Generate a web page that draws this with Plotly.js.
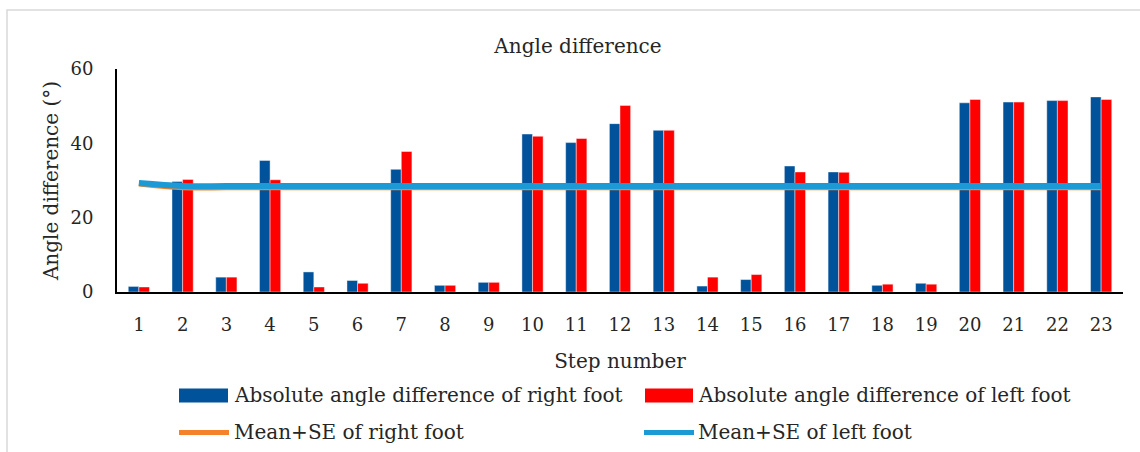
<!DOCTYPE html>
<html>
<head>
<meta charset="utf-8">
<script src="https://cdn.plot.ly/plotly-3.0.1.min.js"></script>
<style>html,body{margin:0;padding:0;background:#fff;}#chart{width:1140px;height:452px;}</style>
</head>
<body>
<div id="chart"></div>
<script>
// ---- data ----
const categories = ['1','2','3','4','5','6','7','8','9','10','11','12','13','14','15','16','17','18','19','20','21','22','23'];
const rightFoot = [1.5, 29.7, 4.0, 35.4, 5.4, 3.1, 33.0, 1.8, 2.6, 42.5, 40.2, 45.3, 43.5, 1.6, 3.35, 33.9, 32.3, 1.8, 2.35, 50.9, 51.1, 51.5, 52.5];
const leftFoot  = [1.35, 30.3, 4.0, 30.2, 1.35, 2.35, 37.8, 1.8, 2.6, 41.9, 41.3, 50.2, 43.5, 4.0, 4.7, 32.3, 32.2, 2.1, 2.1, 51.8, 51.1, 51.5, 51.8];
const meanSERight = [28.9, 27.9, 27.9, 27.9, 27.9, 27.9, 27.9, 27.9, 27.9, 27.9, 27.9, 27.9, 27.9, 27.9, 27.9, 27.9, 27.9, 27.9, 27.9, 27.9, 27.9, 27.9, 27.9];
const meanSELeft  = [29.3, 28.5, 28.5, 28.5, 28.5, 28.5, 28.5, 28.5, 28.5, 28.5, 28.5, 28.5, 28.5, 28.5, 28.5, 28.5, 28.5, 28.5, 28.5, 28.5, 28.5, 28.5, 28.5];
const seriesNames = ['Absolute angle difference of right foot', 'Absolute angle difference of left foot', 'Mean+SE of right foot', 'Mean+SE of left foot'];
const yTicks = [0, 20, 40, 60];

// ---- style ----
const FONT = 'DejaVu Serif';
const TXT = '#262626';
const BLUE = '#00529B', RED = '#FF0000', ORANGE = '#F5822A', LBLUE = '#1C9AD6';

// plot area geometry (px)
const PL = 117, PW = 1006, PT = 69, PH = 222.7;
const fx = px => (px - PL) / PW;
const fy = py => (PT + PH - py) / PH;

const traces = [
  {type:'bar', x:categories, y:rightFoot, name:seriesNames[0],
   marker:{color:BLUE, line:{color:'rgba(255,255,255,0.55)', width:0.8}}},
  {type:'bar', x:categories, y:leftFoot, name:seriesNames[1],
   marker:{color:RED, line:{color:'rgba(255,255,255,0.55)', width:0.8}}},
  {type:'scatter', mode:'lines', x:categories, y:meanSERight, name:seriesNames[2],
   line:{color:ORANGE, width:4, shape:'spline', smoothing:1}},
  {type:'scatter', mode:'lines', x:categories, y:meanSELeft, name:seriesNames[3],
   line:{color:LBLUE, width:6, shape:'spline', smoothing:1}}
];

const legendShapes = [
  {type:'rect', xref:'paper', yref:'paper', x0:fx(179), x1:fx(228), y0:fy(402), y1:fy(388), fillcolor:BLUE, line:{width:0}},
  {type:'rect', xref:'paper', yref:'paper', x0:fx(645), x1:fx(693), y0:fy(402), y1:fy(388), fillcolor:RED, line:{width:0}},
  {type:'line', xref:'paper', yref:'paper', x0:fx(179), x1:fx(229), y0:fy(432), y1:fy(432), line:{color:ORANGE, width:5}},
  {type:'line', xref:'paper', yref:'paper', x0:fx(644), x1:fx(694), y0:fy(432), y1:fy(432), line:{color:LBLUE, width:5}}
];
const legendTexts = [
  {text:seriesNames[0], x:fx(232), y:fy(395)},
  {text:seriesNames[1], x:fx(696), y:fy(395)},
  {text:seriesNames[2], x:fx(232), y:fy(432)},
  {text:seriesNames[3], x:fx(696), y:fy(432)}
].map(a => Object.assign(a, {xref:'paper', yref:'paper', xanchor:'left', yanchor:'middle', showarrow:false,
   font:{family:FONT, size:20, color:TXT}}));

const layout = {
  width:1140, height:452,
  margin:{l:PL, r:1140-PL-PW, t:PT, b:452-PT-PH, pad:0},
  paper_bgcolor:'#fff', plot_bgcolor:'#fff',
  font:{family:FONT, size:18, color:TXT},
  showlegend:false,
  barmode:'group', bargap:0.515, bargroupgap:0,
  title:{text:'Angle difference', font:{family:FONT, size:20, color:TXT},
         xref:'container', yref:'container', x:578/1140, xanchor:'center', y:1-46/452, yanchor:'middle'},
  xaxis:{type:'category', showline:true, linecolor:'#000', linewidth:2, showgrid:false, zeroline:false,
         ticks:'', ticklabelstandoff:15, tickfont:{family:FONT, size:18, color:TXT},
         title:{text:'Step number', font:{family:FONT, size:20, color:TXT}, standoff:20}},
  yaxis:{range:[0,60], tickvals:yTicks, showline:true, linecolor:'#000', linewidth:2, showgrid:false, zeroline:false,
         ticks:'', ticklabelstandoff:18, tickfont:{family:FONT, size:18, color:TXT},
         title:{text:'Angle difference (°)', font:{family:FONT, size:20, color:TXT}, standoff:6}},
  shapes:[
    {type:'rect', xref:'paper', yref:'paper', x0:fx(7), x1:fx(1160), y0:fy(480), y1:fy(10),
     line:{color:'#d9d9d9', width:1.5}, fillcolor:'rgba(0,0,0,0)', layer:'below'}
  ].concat(legendShapes),
  annotations:legendTexts
};

Plotly.newPlot('chart', traces, layout, {staticPlot:true, displayModeBar:false});
</script>
</body>
</html>
